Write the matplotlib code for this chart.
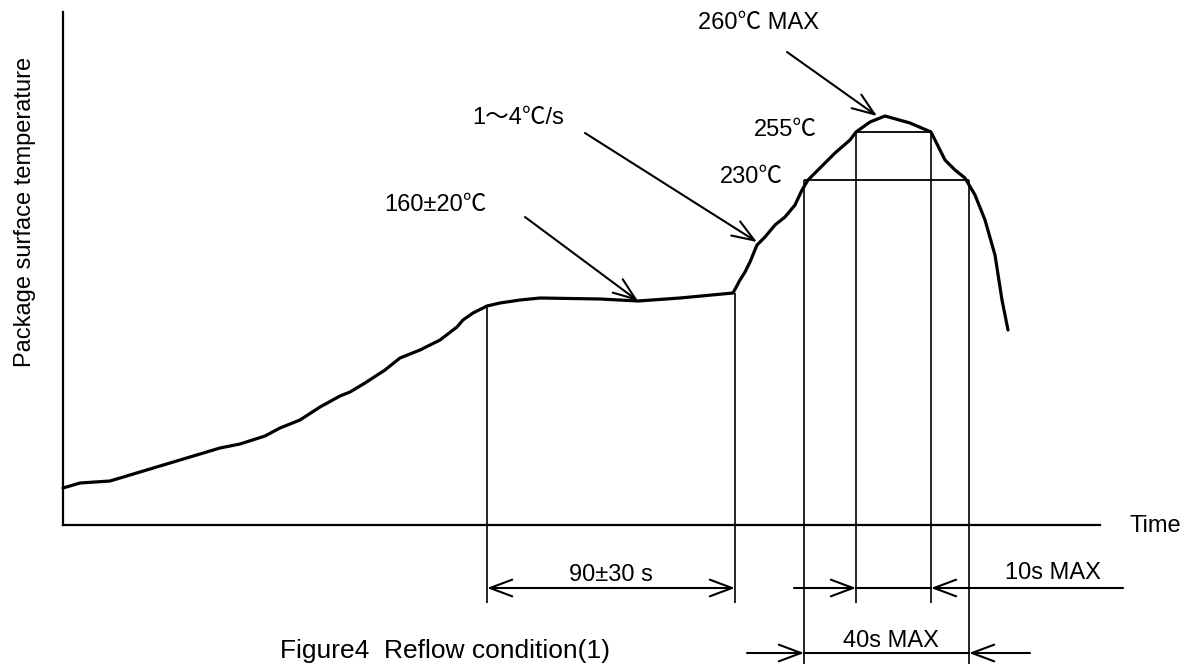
import matplotlib
matplotlib.use("Agg")
import matplotlib.pyplot as plt

FONT = ["Liberation Sans", "Noto Sans CJK JP", "DejaVu Sans"]
plt.rcParams["font.family"] = FONT

# reflow profile (time / temperature in drawing units,
# origin at the axes corner)
time = [0, 17, 47, 67, 107, 157, 177, 202, 217, 237, 257, 277, 287, 302, 322,
        337, 357, 377, 394, 400, 410, 424, 437, 457, 477, 537, 575, 617, 670,
        677, 682, 687, 694, 702, 712, 722, 732, 739, 745, 757, 772, 787, 793,
        807, 822, 847, 868, 877, 882, 892, 902, 912, 922, 932, 939, 945]
temp = [37, 42, 44, 50, 62, 77, 81, 89, 97, 105, 118, 129, 133, 142, 155,
        167, 175, 185, 198, 205, 212, 219, 222, 225, 227, 226, 224, 227, 232,
        245, 253, 263, 280, 288, 300, 308, 320, 335, 345, 357, 372, 385, 393,
        403, 409, 402, 393, 375, 365, 355, 347, 330, 305, 270, 225, 195]

# level lines (230 / 255 C)
level_T = [345, 393]
level_t0 = [741, 793]
level_t1 = [906, 868]

# vertical extension lines
edge_t = [424, 672, 741, 793, 868, 906]
edge_top = [219, 232, 345, 393, 393, 345]
edge_bot = [-78, -78, -139, -78, -78, -139]

fig = plt.figure(figsize=(11.9, 6.64), dpi=100)
ax = fig.add_axes([63 / 1190, 139 / 664, 1037 / 1190, 513 / 664])
ax.set_xlim(0, 1037)
ax.set_ylim(0, 513)
for s in ["top", "right"]:
    ax.spines[s].set_visible(False)
for s in ["left", "bottom"]:
    ax.spines[s].set_linewidth(1.6)
ax.set_xticks([]); ax.set_yticks([])
ax.set_facecolor("none")

ax.plot(time, temp, color="black", lw=2.3, solid_capstyle="round",
        solid_joinstyle="round", clip_on=False)
ax.hlines(level_T, level_t0, level_t1, color="black", lw=1.3, clip_on=False)
ax.vlines(edge_t, edge_bot, edge_top, color="black", lw=1.2, clip_on=False)

ARW = dict(arrowstyle="->,head_length=1.6,head_width=0.6", mutation_scale=10,
           lw=1.5, color="black", shrinkA=0, shrinkB=0)


def arrow(tail, tip):
    ax.annotate("", xy=tip, xytext=tail, arrowprops=ARW, annotation_clip=False)


# callouts
arrow((724, 473), (814, 409))
arrow((522, 392), (694, 283))
arrow((462, 308), (575, 224))

# dimension arrows
arrow((548, -63), (424, -63))
arrow((548, -63), (672, -63))
arrow((731, -63), (793, -63))
arrow((1060, -63), (868, -63))
arrow((684, -128), (741, -128))
arrow((967, -128), (906, -128))
ax.plot([793, 868], [-63, -63], color="black", lw=1.5, clip_on=False)
ax.plot([741, 906], [-128, -128], color="black", lw=1.5, clip_on=False)

FS = 17
txt = dict(ha="center", va="center", fontsize=FS, clip_on=False)
ax.text(695, 502, "260℃ MAX", **txt)
ax.text(722, 395, "255℃", **txt)
ax.text(688, 348, "230℃", **txt)
ax.text(455, 407, "1～4℃/s", **txt)
ax.text(372, 320, "160±20℃", **txt)
ax.text(548, -50, "90±30 s", **txt)
ax.text(990, -48, "10s MAX", **txt)
ax.text(828, -116, "40s MAX", **txt)
ax.text(1092, -1, "Time", **txt)
ax.text(-38, 313, "Package surface temperature", rotation=90, **txt)
ax.text(547, -133, "Figure4  Reflow condition(1)", ha="right", va="baseline",
        fontsize=19, clip_on=False)

fig.savefig("out.png", dpi=100)
